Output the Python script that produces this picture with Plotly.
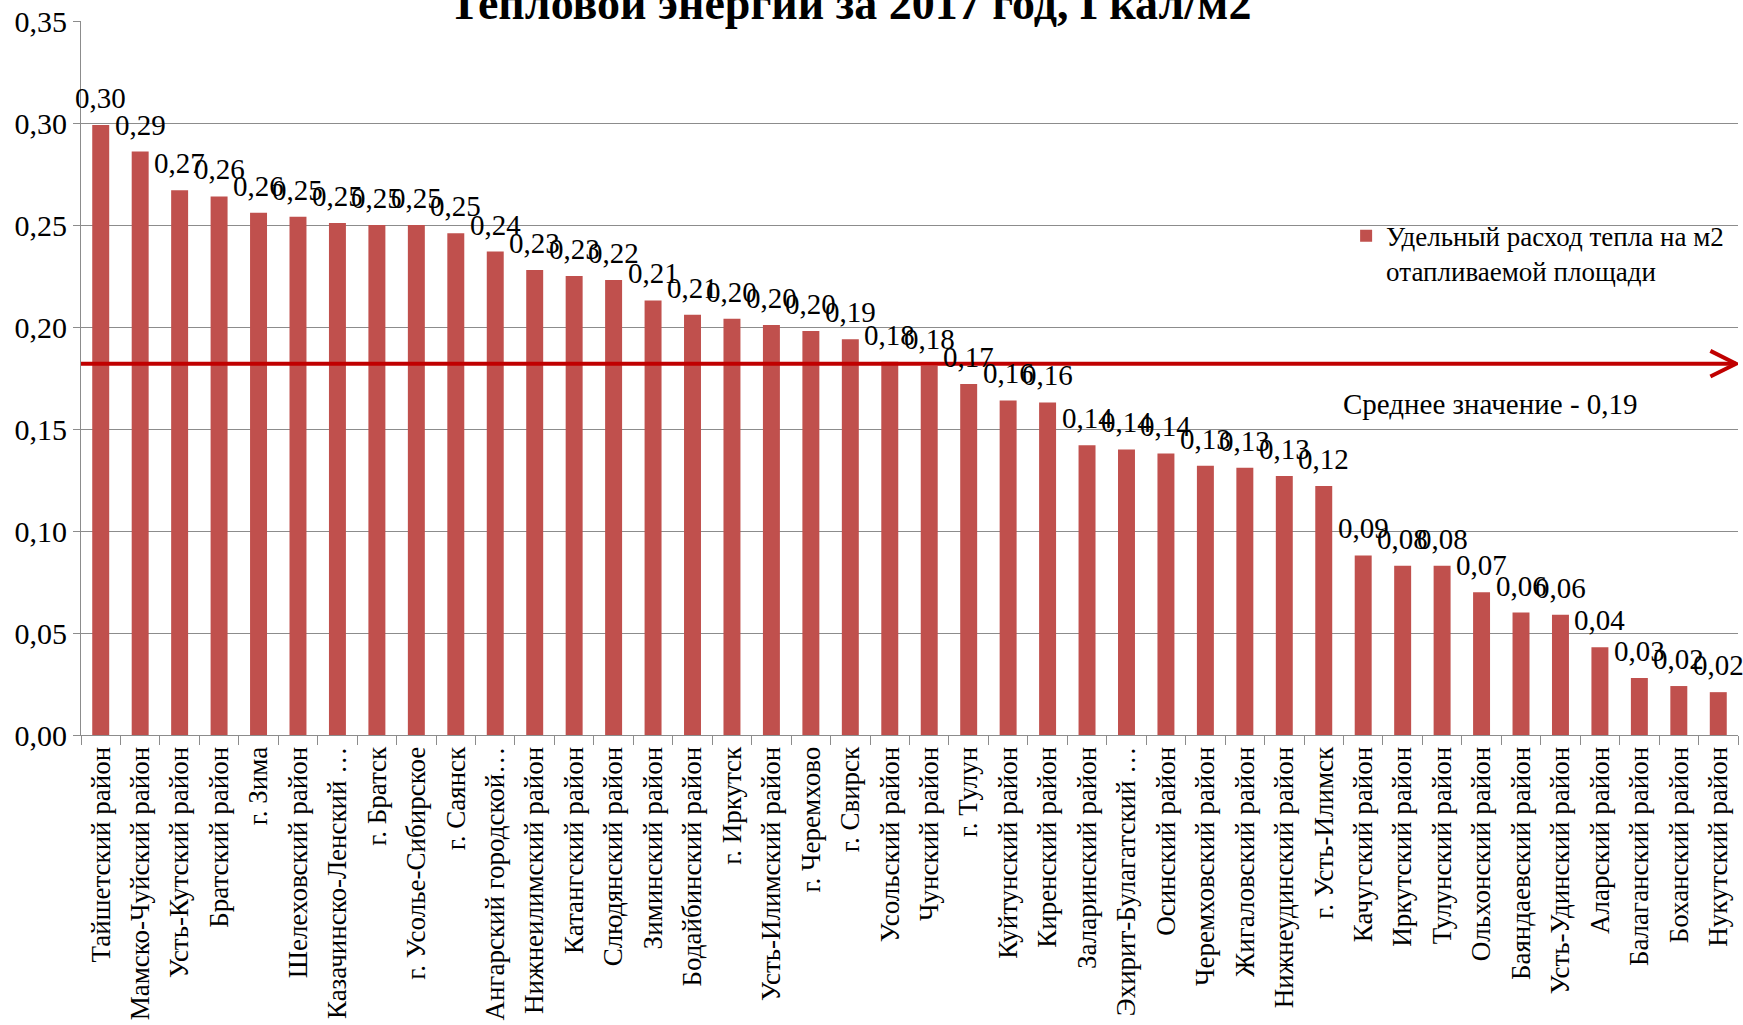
import plotly.graph_objects as go

categories = [
    "Тайшетский район", "Мамско-Чуйский район", "Усть-Кутский район", "Братский район",
    "г. Зима", "Шелеховский район", "Казачинско-Ленский …", "г. Братск",
    "г. Усолье-Сибирское", "г. Саянск", "Ангарский городской…", "Нижнеилимский район",
    "Катангский район", "Слюдянский район", "Зиминский район", "Бодайбинский район",
    "г. Иркутск", "Усть-Илимский район", "г. Черемхово", "г. Свирск",
    "Усольский район", "Чунский район", "г. Тулун", "Куйтунский район",
    "Киренский район", "Заларинский район", "Эхирит-Булагатский …", "Осинский район",
    "Черемховский район", "Жигаловский район", "Нижнеудинский район", "г. Усть-Илимск",
    "Качугский район", "Иркутский район", "Тулунский район", "Ольхонский район",
    "Баяндаевский район", "Усть-Удинский район", "Аларский район", "Балаганский район",
    "Боханский район", "Нукутский район",
]

values = [
    0.299, 0.286, 0.267, 0.264, 0.256, 0.254, 0.251, 0.250, 0.250, 0.246,
    0.237, 0.228, 0.225, 0.223, 0.213, 0.206, 0.204, 0.201, 0.198, 0.194,
    0.183, 0.181, 0.172, 0.164, 0.163, 0.142, 0.140, 0.138, 0.132, 0.131,
    0.127, 0.122, 0.088, 0.083, 0.083, 0.070, 0.060, 0.059, 0.043, 0.028,
    0.024, 0.021,
]

avg_value = 0.182
avg_label = "Среднее значение - 0,19"
series_name = "Удельный расход тепла на м2<br>отапливаемой площади"
title_text = "Тепловой энергии за 2017 год, Гкал/м2"
y_tick_values = [0.00, 0.05, 0.10, 0.15, 0.20, 0.25, 0.30, 0.35]

FONT = "Liberation Serif, Times New Roman, serif"
BAR_COLOR = "#C0504D"
AVG_COLOR = "#C00000"
GRID = "#8C8C8C"

fig = go.Figure()
fig.add_trace(go.Bar(
    x=categories, y=values, name=series_name,
    marker=dict(color=BAR_COLOR, line=dict(width=0)),
    showlegend=True, hoverinfo="x+y",
))

annotations = []
for c, v in zip(categories, values):
    annotations.append(dict(
        x=c, y=v, xref="x", yref="y", text=f"{v:.2f}".replace(".", ","),
        showarrow=False, yanchor="bottom", yshift=9,
        font=dict(family=FONT, size=29, color="#000000"),
    ))

annotations.append(dict(
    x=0.464, y=1, xref="paper", yref="paper", text=f"<b>{title_text}</b>",
    showarrow=False, yanchor="bottom", xanchor="center", yshift=-10,
    font=dict(family=FONT, size=46, color="#000000"),
))
annotations.append(dict(
    x=0.941, y=avg_value, xref="paper", yref="y", text=avg_label,
    showarrow=False, yanchor="middle", xanchor="right", yshift=-40,
    font=dict(family=FONT, size=29, color="#000000"),
))

n = len(categories)
tip = n - 1 + 0.45
dx = 0.65
dy = 0.0063
fig.add_shape(type="line", xref="x", yref="y", x0=-0.5, x1=tip, y0=avg_value, y1=avg_value,
              line=dict(color=AVG_COLOR, width=4), layer="above")
fig.add_shape(type="path", xref="x", yref="y",
              path=f"M {tip - dx},{avg_value + dy} L {tip},{avg_value} L {tip - dx},{avg_value - dy}",
              line=dict(color=AVG_COLOR, width=4), layer="above")

fig.update_layout(
    width=1743, height=1025,
    margin=dict(l=81, r=5, t=21, b=290, autoexpand=False),
    paper_bgcolor="white", plot_bgcolor="white",
    separators=", ",
    bargap=0.57,
    font=dict(family=FONT, size=28, color="#000000"),
    annotations=annotations,
    legend=dict(
        x=0.7635, y=0.733, xanchor="left", yanchor="top",
        font=dict(family=FONT, size=27, color="#000000"),
        bgcolor="rgba(0,0,0,0)", valign="top", itemwidth=30,
    ),
    xaxis=dict(
        type="category", range=[-0.5, n - 0.5], autorange=False,
        tickangle=-90, tickfont=dict(family=FONT, size=27),
        ticks="outside", tickson="boundaries", ticklen=9, tickcolor=GRID,
        showline=True, linecolor=GRID, linewidth=1, showgrid=False, automargin=False,
    ),
    yaxis=dict(
        range=[0, 0.35], autorange=False, tickvals=y_tick_values, tickformat=".2f",
        tickfont=dict(family=FONT, size=30),
        ticks="outside", ticklen=7, tickcolor=GRID,
        showline=True, linecolor=GRID, linewidth=1, automargin=False,
        showgrid=True, gridcolor=GRID, gridwidth=1, zeroline=False,
    ),
)

fig.write_html(
    "out.html",
    config={"displayModeBar": False},
    post_script="document.body.style.margin='0';document.body.style.overflow='hidden';",
)
